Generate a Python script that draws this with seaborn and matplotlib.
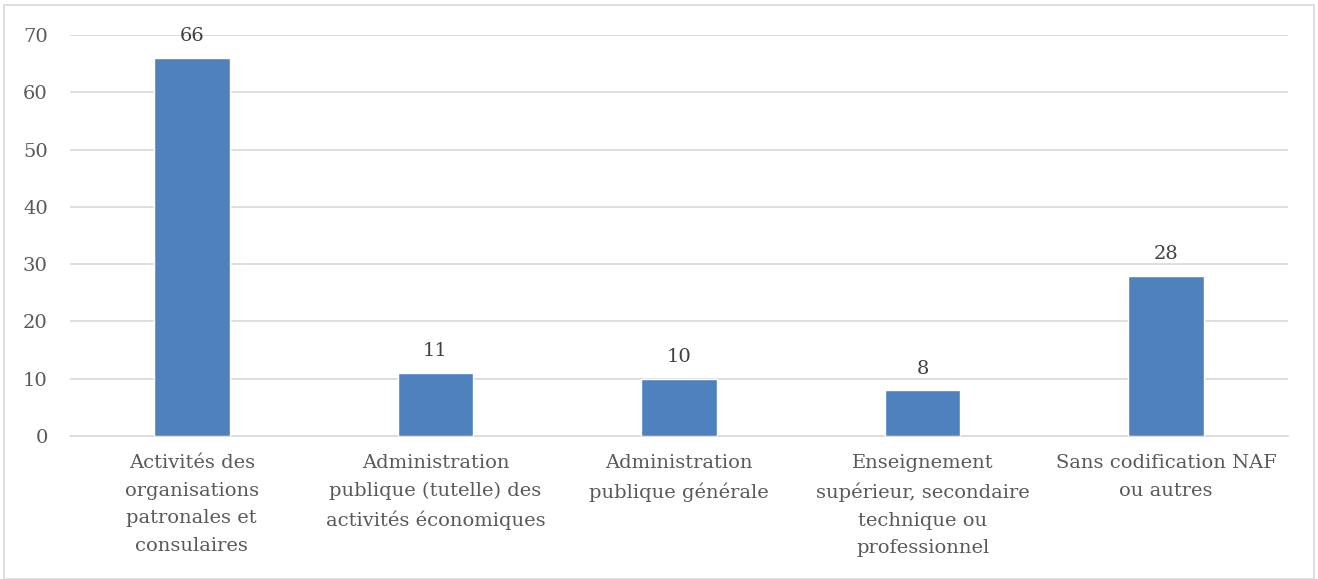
import matplotlib
matplotlib.use("Agg")
import matplotlib.pyplot as plt
import seaborn as sns
import pandas as pd
from matplotlib.patches import Rectangle

categories = [
    "Activités des\norganisations\npatronales et\nconsulaires",
    "Administration\npublique (tutelle) des\nactivités économiques",
    "Administration\npublique générale",
    "Enseignement\nsupérieur, secondaire\ntechnique ou\nprofessionnel",
    "Sans codification NAF\nou autres",
]
values = [66, 11, 10, 8, 28]
yticks = [0, 10, 20, 30, 40, 50, 60, 70]

sns.set_theme(style="white")
plt.rcParams['font.family'] = ['DejaVu Serif']
text_color = "#595959"
grid_color = "#D9D9D9"
bar_color = "#4F81BD"

df = pd.DataFrame({"cat": categories, "val": values})

fig = plt.figure(figsize=(13.18, 5.79), dpi=100)
ax = fig.add_axes([70/1318, 1-436/579, (1288-70)/1318, (436-35)/579])

sns.barplot(data=df, x="cat", y="val", color=bar_color, width=0.31,
            saturation=1, ax=ax, zorder=3)

ax.set_ylim(0, 70)
ax.set_yticks(yticks)
ax.set_xlim(-0.5, len(categories) - 0.5)
ax.yaxis.grid(True, color=grid_color, linewidth=1.2, zorder=0)
ax.set_axisbelow(True)
for s in ["top", "right", "left"]:
    ax.spines[s].set_visible(False)
ax.spines["bottom"].set_color(grid_color)
ax.spines["bottom"].set_linewidth(1.2)
ax.set_xlabel("")
ax.set_ylabel("")
ax.tick_params(axis="both", length=0, colors=text_color, labelsize=14)
ax.tick_params(axis="y", pad=16)
ax.tick_params(axis="x", pad=13)
for lbl in ax.get_xticklabels():
    lbl.set_linespacing(1.68)
    lbl.set_color(text_color)

for container in ax.containers:
    ax.bar_label(container, labels=[str(v) for v in values], padding=9,
                 color="#404040", fontsize=14)

fig.patches.append(Rectangle((4/1318, 0), 1310/1318, 1-5/579,
                             transform=fig.transFigure, fill=False,
                             edgecolor=grid_color, linewidth=1.2))

fig.savefig("out.png", dpi=100, facecolor="white")
